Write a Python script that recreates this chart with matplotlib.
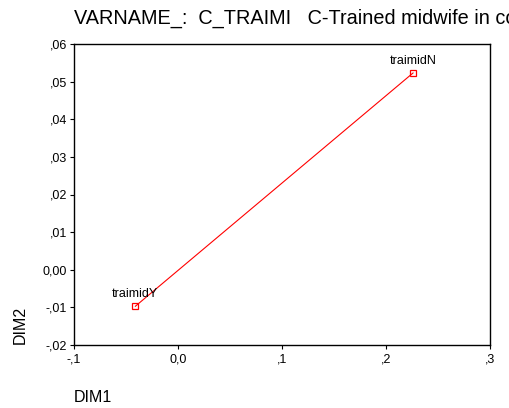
import matplotlib
matplotlib.use("Agg")
import matplotlib.pyplot as plt

plt.rcParams['font.family'] = ['Liberation Sans', 'DejaVu Sans']

categories = ["traimidY", "traimidN"]
dim1 = [-0.041, 0.226]
dim2 = [-0.0097, 0.0523]
xticks = [-0.1, 0.0, 0.1, 0.2, 0.3]
xticklabels = ["-,1", "0,0", ",1", ",2", ",3"]
yticks = [-0.02, -0.01, 0.0, 0.01, 0.02, 0.03, 0.04, 0.05, 0.06]
yticklabels = ["-,02", "-,01", "0,00", ",01", ",02", ",03", ",04", ",05", ",06"]

fig = plt.figure(figsize=(5.1, 4.08), dpi=100)
ax = fig.add_axes([74/510, 1-345/408, 416/510, 301/408])
ax.plot(dim1, dim2, color='red', lw=0.8, marker='s', ms=4, mfc='none', mec='red', mew=0.9)
for c, x, y in zip(categories, dim1, dim2):
    ax.annotate(c, (x, y), xytext=(0, 4.5), textcoords='offset points', ha='center', va='bottom', fontsize=9)
ax.set_xlim(-0.1, 0.3)
ax.set_ylim(-0.02, 0.06)
ax.set_xticks(xticks)
ax.set_xticklabels(xticklabels)
ax.set_yticks(yticks)
ax.set_yticklabels(yticklabels)
ax.tick_params(labelsize=9, length=3, width=0.8, pad=2)
ax.tick_params(axis='x', pad=3)
for s in ax.spines.values():
    s.set_linewidth(1.0)
fig.text(74/510, 1-18/408, "VARNAME_:  C_TRAIMI   C-Trained midwife in community", fontsize=14.3, va='center', ha='left')
fig.text(20/510, 1-325/408, "DIM2", rotation=90, fontsize=11.5, ha='center', va='center')
fig.text(74/510, 1-397/408, "DIM1", fontsize=11.5, ha='left', va='center')
fig.savefig("out.png", dpi=100)
